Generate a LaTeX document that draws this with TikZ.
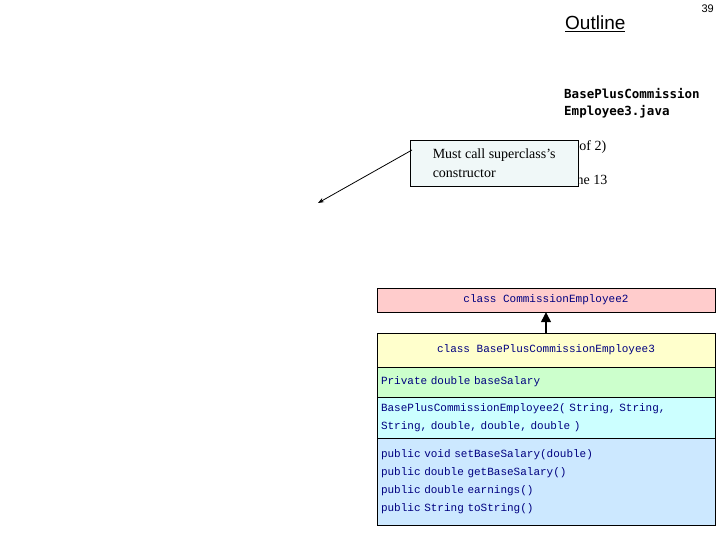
\documentclass[tikz,border=0pt]{standalone}
\usepackage{fontspec}
\setmainfont{Liberation Serif}
\setsansfont{Liberation Sans}
\setmonofont{Liberation Mono}
\newfontfamily\boldmono{DejaVu Sans Mono}
\usetikzlibrary{arrows.meta}
\definecolor{pinkfill}{HTML}{FFCCCC}
\definecolor{yellowfill}{HTML}{FFFFCC}
\definecolor{greenfill}{HTML}{CCFFCC}
\definecolor{cyanfill}{HTML}{CCFFFF}
\definecolor{bluefill}{HTML}{CCE8FF}
\definecolor{codeblue}{HTML}{000080}
\definecolor{notefill}{HTML}{F0F8F8}
\begin{document}
\begin{tikzpicture}[x=1pt,y=-1pt]
    \tikzstyle{block} = [rectangle,draw=black,font=\ttfamily\fontsize{11}{18}\selectfont,text=codeblue,minimum width=338pt,inner sep=0pt];
    \tikzstyle{side} = [anchor=north west,inner sep=0pt];

    \useasboundingbox (0,0) rectangle (720,540);

    % outline column
    \node[side,name=page,anchor=north east,font=\sffamily\fontsize{11}{13}\selectfont] at (714,5) {39};
    \node[side,name=outline,font=\sffamily\fontsize{19}{22}\selectfont] at (565,16) {\underline{Outline}};
    \node[side,name=file,font=\boldmono\bfseries\fontsize{12.5}{17}\selectfont,align=left] at (564,88) {BasePlusCommission\\Employee3.java};
    \node[side,name=part,font=\fontsize{14}{16}\selectfont] at (564,140) {(1 of 2)};
    \node[side,name=line,font=\fontsize{14}{16}\selectfont] at (564,175) {Line 13};

    % callout
    \coordinate (tip) at (318,203);
    \node[side,name=note,draw=black,fill=notefill,minimum width=168pt,minimum height=46pt,inner sep=4pt,align=left,font=\fontsize{14}{19}\selectfont] at (410,140) {Must call superclass's\\constructor};
    \draw[thick,-{Stealth[length=6pt]}] ([xshift=2pt,yshift=-10pt]note.north west) -- (tip);

    % class diagram
    \node[block,name=super,fill=pinkfill,minimum height=24pt] at (546,300) {class CommissionEmployee2};
    \node[block,name=sub,fill=yellowfill,minimum height=34pt] at (546,350) {class BasePlusCommissionEmployee3};
    \node[block,name=fields,fill=greenfill,minimum height=30pt,text width=330pt] at (546,382) {Private double baseSalary};
    \node[block,name=ctor,fill=cyanfill,minimum height=41pt,text width=330pt,align=left] at (546,417.5) {BasePlusCommissionEmployee2( String, String,\\String, double, double, double )};
    \node[block,name=methods,fill=bluefill,minimum height=87pt,text width=330pt,align=left] at (546,481.5) {public void setBaseSalary(double)\\public double getBaseSalary()\\public double earnings()\\public String toString()};

    \path (sub.north) edge[very thick,-{Triangle[length=10pt,width=10pt]}] (super.south);

  \end{tikzpicture}
\end{document}
